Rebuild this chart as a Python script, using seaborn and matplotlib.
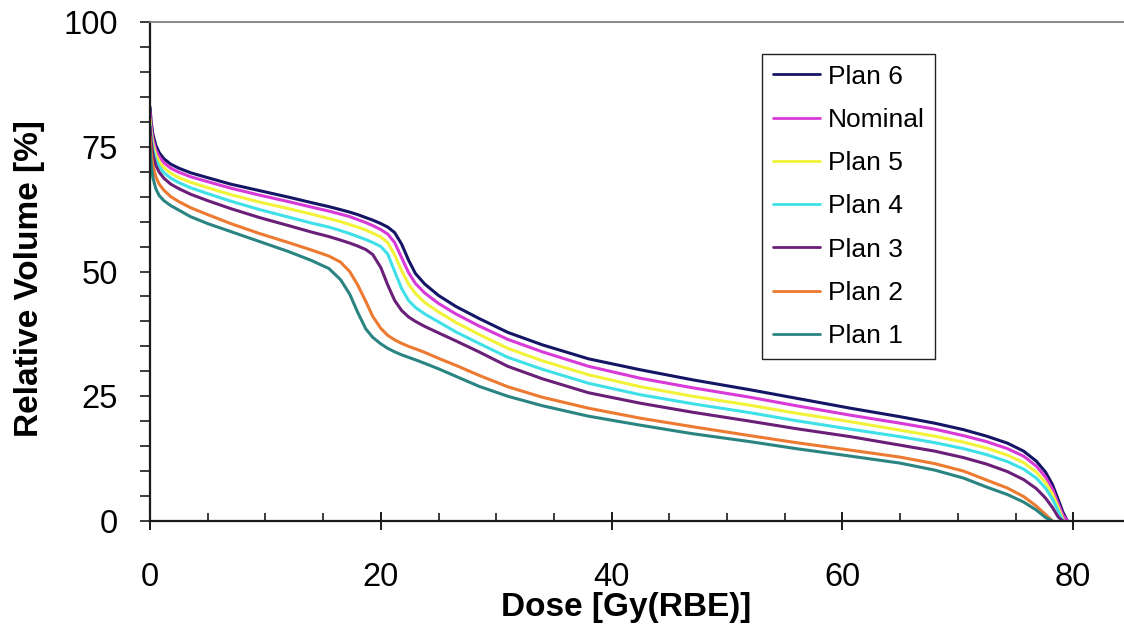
import numpy as np
import pandas as pd
import matplotlib
matplotlib.use("Agg")
import matplotlib.pyplot as plt
import seaborn as sns
from matplotlib.ticker import MultipleLocator

# Cumulative dose-volume histograms for the robustness plans
DOSE = [0, 0.1, 0.25, 0.5, 0.8, 1.2, 1.8, 2.5, 3.5, 5, 7, 9.5, 12, 14, 15.5,
        16.5, 17.3, 18, 18.7, 19.3, 20, 20.6, 21.2, 21.8, 22.4, 23, 23.8, 25,
        26.5, 28.5, 31, 34, 38, 42.5, 47, 52, 56, 60.7, 65, 68, 70.5, 72.5,
        74.3, 75.7, 76.8, 77.6, 78.2, 78.7, 79.1, 79.5]

nan = np.nan
PLAN_6 = [83, 80, 77.5, 75.3, 73.8, 72.6, 71.5, 70.7, 69.8, 68.8, 67.5, 66.2,
          64.9, 63.8, 63.0, 62.4, 61.9, 61.4, 60.8, 60.3, 59.6, 58.9, 57.8, 55.5,
          52.3, 49.6, 47.5, 45.2, 43.0, 40.6, 37.8, 35.3, 32.5, 30.3, 28.3, 26.3,
          24.6, 22.6, 20.9, 19.6, 18.3, 17.0, 15.6, 14.0, 12.0, 9.8, 7.3, 4.3,
          1.8, 0]
NOMINAL = [82, 79, 76.5, 74.4, 73.0, 71.8, 70.7, 69.9, 69.0, 68.0, 66.7, 65.3,
           64.0, 62.9, 62.1, 61.5, 61.0, 60.4, 59.8, 59.2, 58.4, 57.5, 55.8, 52.8,
           49.8, 47.6, 45.7, 43.6, 41.5, 39.1, 36.4, 33.9, 31.0, 28.6, 26.7, 24.8,
           23.1, 21.2, 19.6, 18.4, 17.1, 15.9, 14.5, 13.0, 11.0, 8.8, 6.4, 3.5,
           1.2, 0]
PLAN_5 = [80.5, 77.8, 75.5, 73.4, 72.0, 70.8, 69.7, 68.8, 67.9, 66.8, 65.4, 63.9,
          62.6, 61.5, 60.6, 60.0, 59.4, 58.9, 58.3, 57.7, 56.9, 55.8, 53.3, 50.2,
          47.5, 45.6, 43.8, 41.9, 39.8, 37.4, 34.6, 32.1, 29.3, 26.9, 25.0, 23.2,
          21.6, 19.9, 18.2, 17.0, 15.8, 14.6, 13.2, 11.7, 9.8, 7.7, 5.4, 2.7,
          0.4, nan]
PLAN_4 = [79.5, 76.8, 74.5, 72.4, 71.0, 69.8, 68.7, 67.8, 66.8, 65.6, 64.1, 62.4,
          60.9, 59.7, 58.9, 58.2, 57.6, 57.0, 56.4, 55.8, 55.0, 53.5, 50.0, 46.6,
          44.2, 42.8, 41.5, 39.9, 37.9, 35.6, 32.8, 30.4, 27.6, 25.3, 23.5, 21.7,
          20.1, 18.4, 16.9, 15.7, 14.5, 13.3, 11.9, 10.4, 8.6, 6.6, 4.4, 2.0,
          0, nan]
PLAN_3 = [79, 76, 73.5, 71.3, 69.9, 68.7, 67.5, 66.6, 65.5, 64.2, 62.6, 60.8,
          59.2, 57.9, 57.0, 56.3, 55.7, 55.1, 54.4, 53.4, 50.8, 47.3, 44.2, 42.2,
          40.9, 40.0, 39.0, 37.7, 36.1, 33.9, 31.0, 28.5, 25.7, 23.6, 21.8, 20.0,
          18.5, 16.9, 15.2, 14.0, 12.7, 11.4, 9.9, 8.3, 6.5, 4.6, 2.7, 0.8,
          0, nan]
PLAN_2 = [77, 73.8, 71.2, 69.0, 67.5, 66.3, 65.0, 64.0, 62.8, 61.4, 59.6, 57.6,
          55.8, 54.3, 53.1, 51.9, 50.0, 47.3, 44.0, 41.0, 38.6, 37.2, 36.3, 35.6,
          35.0, 34.5, 33.8, 32.6, 31.2, 29.2, 26.9, 24.8, 22.6, 20.6, 18.9, 17.1,
          15.7, 14.2, 12.8, 11.5, 10.0, 8.2, 6.6, 4.9, 3.0, 1.3, 0, nan,
          nan, nan]
PLAN_1 = [75, 71.5, 68.8, 66.6, 65.2, 64.2, 63.2, 62.3, 61.0, 59.6, 58.0, 56.0,
          54.0, 52.2, 50.6, 48.4, 45.5, 41.8, 38.5, 36.8, 35.5, 34.6, 33.9, 33.3,
          32.8, 32.3, 31.6, 30.5, 29.0, 27.0, 25.0, 23.1, 21.0, 19.2, 17.5, 15.9,
          14.5, 13.0, 11.6, 10.2, 8.6, 6.8, 5.3, 3.8, 2.2, 0.7, 0, nan,
          nan, nan]

PLANS = ["Plan 6", "Nominal", "Plan 5", "Plan 4", "Plan 3", "Plan 2", "Plan 1"]
SERIES = [PLAN_6, NOMINAL, PLAN_5, PLAN_4, PLAN_3, PLAN_2, PLAN_1]
COLORS = {
    "Plan 6": "#151565",
    "Nominal": "#d83ad8",
    "Plan 5": "#f2f238",
    "Plan 4": "#40e0e8",
    "Plan 3": "#6a1f78",
    "Plan 2": "#ec7a30",
    "Plan 1": "#2a8482",
}

df = pd.concat(
    [pd.DataFrame({"dose": DOSE, "volume": vals, "plan": name})
     for name, vals in zip(PLANS, SERIES)],
    ignore_index=True,
).dropna()

sns.set_style("ticks")
plt.rcParams["font.family"] = ["Liberation Sans", "DejaVu Sans"]
plt.rcParams["text.color"] = "black"
plt.rcParams["axes.labelcolor"] = "black"
plt.rcParams["xtick.labelcolor"] = "black"
plt.rcParams["ytick.labelcolor"] = "black"

W, H = 1124, 636
fig = plt.figure(figsize=(W / 100, H / 100), dpi=100)
fig.patch.set_facecolor("white")
ax = fig.add_axes([150 / W, 1 - 521 / H, 974 / W, 499 / H])

sns.lineplot(data=df, x="dose", y="volume", hue="plan", hue_order=PLANS,
             palette=COLORS, sort=False, estimator=None, linewidth=2.2, ax=ax)
for line in ax.get_lines():
    line.set_solid_joinstyle("round")

ax.set_xlim(0, 84.4)
ax.set_ylim(0, 100)

for side in ("left", "bottom"):
    ax.spines[side].set_color("#1a1a1a")
    ax.spines[side].set_linewidth(1.6)
ax.spines["top"].set_color("#808080")
ax.spines["top"].set_linewidth(1.3)
ax.spines["right"].set_visible(False)

ax.xaxis.set_major_locator(MultipleLocator(20))
ax.xaxis.set_minor_locator(MultipleLocator(5))
ax.yaxis.set_major_locator(MultipleLocator(25))
ax.yaxis.set_minor_locator(MultipleLocator(5))

ax.tick_params(axis="x", which="major", direction="inout", length=13, width=1.4,
               labelsize=23.5, pad=23, color="#1a1a1a", labelcolor="black")
ax.tick_params(axis="x", which="minor", direction="in", length=6, width=1.2,
               color="#1a1a1a")
ax.tick_params(axis="y", which="both", direction="out", length=7.2, width=1.2,
               color="#1a1a1a")
ax.tick_params(axis="y", which="major", labelsize=23.5, pad=16, labelcolor="black")

ax.set_xlabel("Dose [Gy(RBE)]", fontsize=24, fontweight="bold", color="black")
ax.set_ylabel("Relative Volume [%]", fontsize=24, fontweight="bold", color="black")
ax.xaxis.set_label_coords(0.489, -0.142)
ax.yaxis.set_label_coords(-0.108, 0.485)

leg = ax.legend(loc="upper left", bbox_to_anchor=(762 / W, 1 - 54 / H),
                bbox_transform=fig.transFigure, borderaxespad=0,
                fontsize=19, frameon=True, fancybox=False, framealpha=1,
                edgecolor="#222222", handlelength=1.8, handletextpad=0.3,
                labelspacing=0.73, borderpad=0.4, title=None)
leg.get_frame().set_linewidth(1.0)
for line in leg.get_lines():
    line.set_linewidth(2.0)
for text in leg.get_texts():
    text.set_color("black")

fig.savefig("out.png", dpi=100, facecolor="white")
